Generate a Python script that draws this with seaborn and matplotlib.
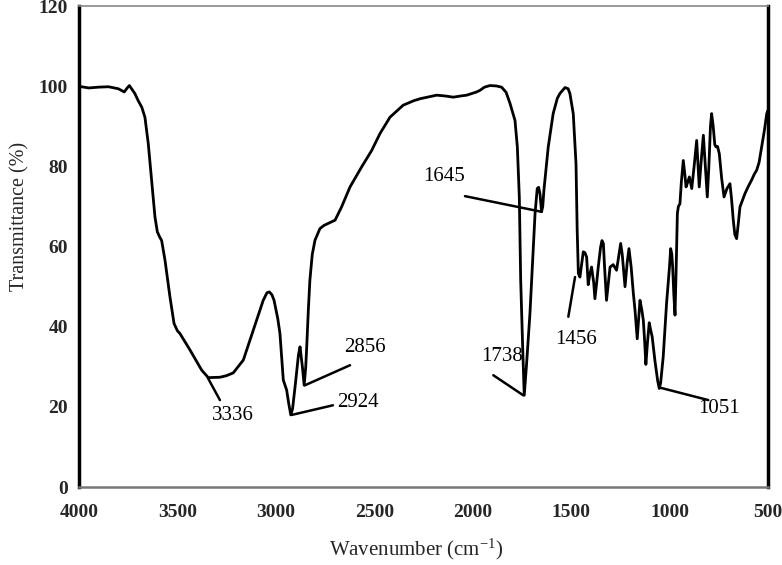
import matplotlib
matplotlib.use("Agg")
import matplotlib.pyplot as plt
import seaborn as sns
import pandas as pd

wavenumber = [
    4000, 3950, 3900, 3850, 3800, 3770, 3755, 3744, 3730, 3716, 3700, 3681, 3665, 3648,
    3631, 3614, 3602, 3590, 3580, 3563, 3538, 3517, 3500, 3487, 3436, 3377, 3343, 3284,
    3250, 3216, 3165, 3114, 3064, 3045, 3033, 3020, 3009, 2990, 2979, 2970, 2962, 2945,
    2935, 2924, 2915, 2900, 2885, 2877, 2865, 2856, 2848, 2843, 2835, 2827, 2815, 2801,
    2776, 2755, 2733, 2699, 2666, 2623, 2564, 2513, 2471, 2420, 2353, 2300, 2268, 2183,
    2140, 2098, 2060, 2030, 1980, 1963, 1940, 1912, 1880, 1853, 1830, 1810, 1785, 1773,
    1763, 1756, 1746, 1738, 1726, 1709, 1692, 1683, 1672, 1665, 1658, 1650, 1644, 1638,
    1616, 1591, 1570, 1557, 1531, 1515, 1506, 1489, 1475, 1469, 1463, 1455, 1448, 1438,
    1430, 1421, 1413, 1405, 1396, 1385, 1379, 1370, 1362, 1350, 1343, 1336, 1330, 1320,
    1302, 1286, 1269, 1260, 1248, 1240, 1226, 1215, 1206, 1195, 1184, 1175, 1164, 1157,
    1150, 1140, 1133, 1127, 1120, 1112, 1103, 1095, 1088, 1080, 1074, 1060, 1052, 1045,
    1032, 1015, 1000, 994, 988, 984, 978, 972, 966, 960, 955, 947, 940, 930, 922, 916,
    908, 899, 893, 887, 875, 862, 855, 849, 838, 828, 818, 808, 800, 792, 786, 778, 770,
    764, 756, 747, 735, 723, 708, 693, 685, 676, 668, 659, 650, 642, 630, 617, 600, 583,
    570, 557, 545, 532, 518, 506, 500,
]
transmittance = [
    100.0, 99.6, 99.8, 99.9, 99.4, 98.6, 99.6, 100.2, 99.2, 98.2, 96.5, 94.8, 92.3, 85.7,
    76.6, 67.4, 63.7, 62.4, 61.5, 56.6, 47.5, 40.8, 39.0, 38.3, 34.2, 29.2, 27.3, 27.4,
    27.8, 28.5, 31.7, 39.2, 46.6, 48.5, 48.7, 48.0, 46.6, 42.0, 38.3, 32.0, 26.7, 24.2,
    21.0, 18.0, 19.5, 26.0, 33.0, 35.0, 30.0, 25.4, 30.0, 35.0, 44.0, 51.6, 58.0, 61.6,
    64.5, 65.3, 65.8, 66.6, 69.9, 74.9, 79.9, 84.0, 88.2, 92.3, 95.3, 96.4, 96.9, 97.8,
    97.6, 97.3, 97.6, 97.8, 98.6, 99.0, 99.8, 100.2, 100.1, 99.8, 98.5, 95.7, 91.5, 84.9,
    72.4, 51.6, 35.0, 22.9, 30.8, 43.3, 59.9, 68.3, 74.5, 74.8, 73.2, 68.7, 70.0, 74.1,
    84.9, 93.2, 97.0, 98.2, 99.7, 99.4, 98.2, 93.2, 80.7, 64.1, 53.3, 52.4, 55.0, 58.7,
    58.5, 57.4, 50.5, 53.0, 54.9, 51.0, 47.0, 51.0, 54.9, 59.9, 61.5, 60.8, 55.0, 46.6,
    54.9, 55.5, 54.1, 57.0, 60.8, 58.0, 50.0, 56.0, 59.5, 55.0, 48.5, 44.0, 37.0, 42.0,
    46.6, 44.0, 41.6, 37.0, 30.6, 36.0, 41.0, 39.0, 37.5, 34.0, 31.5, 26.5, 24.6, 26.0,
    32.5, 45.8, 55.0, 59.5, 58.0, 54.9, 48.0, 42.9, 55.0, 68.3, 70.0, 70.7, 76.0, 81.5,
    78.0, 74.9, 76.0, 77.4, 76.0, 74.5, 80.0, 86.5, 80.0, 74.9, 82.0, 87.8, 80.0, 72.4,
    80.0, 90.0, 93.2, 90.0, 85.5, 84.9, 85.0, 83.2, 77.0, 72.4, 74.5, 75.7, 72.0, 66.6,
    63.0, 62.0, 66.0, 69.9, 71.5, 73.2, 75.0, 76.6, 78.0, 79.1, 81.0, 84.9, 89.0, 93.2,
    94.0,
]

peak_labels = ["3336", "2924", "2856", "1738", "1645", "1456", "1051"]
# annotation text centres and leader lines, in data units
peak_text_pos = [(3220, 17.8), (2585, 21.2), (2545, 34.8), (1850, 32.5), (2145, 77.5), (1475, 36.7), (748, 19.7)]
peak_line_from = [(3284, 21.7), (2710, 20.4), (2623, 30.4), (1895, 27.9), (2039, 72.6), (1514, 42.5), (803, 21.7)]
peak_line_to = [(3345, 27.2), (2919, 18.0), (2852, 25.4), (1743, 22.9), (1650, 68.7), (1480, 52.4), (1048, 24.8)]

x_ticks = [4000, 3500, 3000, 2500, 2000, 1500, 1000, 500]
y_ticks = [0, 20, 40, 60, 80, 100, 120]

sns.set_theme(style="white")
plt.rcParams["font.family"] = ["Liberation Serif", "DejaVu Serif"]
plt.rcParams["mathtext.default"] = "regular"

df = pd.DataFrame({"wavenumber": wavenumber, "transmittance": transmittance})

fig = plt.figure(figsize=(7.82, 5.65), dpi=100)
ax = fig.add_axes([0.101, 0.138, 0.881, 0.851])
sns.lineplot(data=df, x="wavenumber", y="transmittance", sort=False, color="black",
             linewidth=2.0, ax=ax)

ax.set_xlim(4000, 500)
ax.set_ylim(0, 120)
ax.set_xticks(x_ticks)
ax.set_yticks(y_ticks)
ax.set_xticklabels([str(t) for t in x_ticks], fontsize=14, fontweight="bold")
ax.set_yticklabels([str(t) for t in y_ticks], fontsize=14, fontweight="bold")
ax.tick_params(axis="x", direction="out", length=8, width=2, color="black", pad=4)
ax.tick_params(axis="y", direction="out", length=6, width=2, color="black", pad=2)

ax.set_xlabel("Wavenumber (cm$^{-1}$)", fontsize=15)
ax.set_ylabel("Transmittance (%)", fontsize=14.5)
ax.xaxis.set_label_coords(0.49, -0.103)
ax.yaxis.set_label_coords(-0.072, 0.563)

for side in ["left", "right"]:
    ax.spines[side].set_color("black")
    ax.spines[side].set_linewidth(2.5)
ax.spines["top"].set_color("#888888")
ax.spines["top"].set_linewidth(1.2)
ax.spines["bottom"].set_color("#777777")
ax.spines["bottom"].set_linewidth(1.8)

for lab, tp, lf, lt in zip(peak_labels, peak_text_pos, peak_line_from, peak_line_to):
    ax.plot([lf[0], lt[0]], [lf[1], lt[1]], color="black", linewidth=1.8)
    ax.text(tp[0], tp[1], lab, fontsize=15, ha="center", va="center", color="black")

fig.savefig("out.png", dpi=100)
